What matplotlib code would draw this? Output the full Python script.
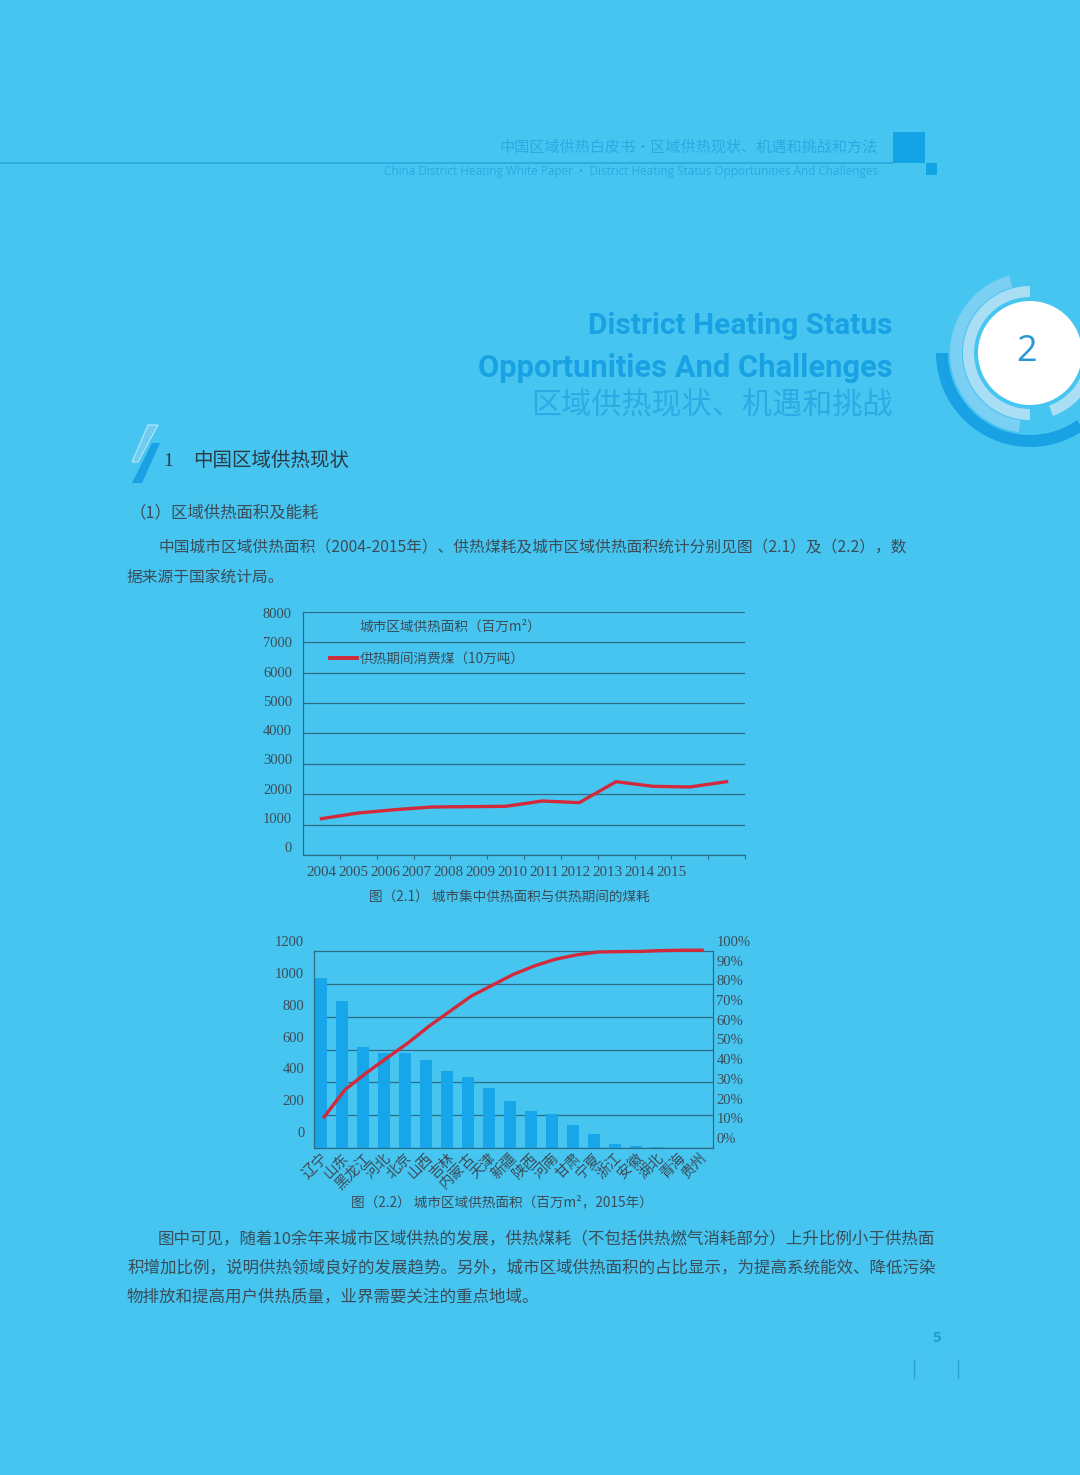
import matplotlib
matplotlib.use('Agg')
import matplotlib.pyplot as plt
from matplotlib.patches import Wedge, Circle, Polygon, Rectangle
from matplotlib.lines import Line2D
import numpy as np

plt.rcParams['font.family'] = ['Noto Sans CJK SC', 'DejaVu Sans']

# ---------------- data ----------------
years = ['2004', '2005', '2006', '2007', '2008', '2009', '2010', '2011', '2012', '2013', '2014', '2015']
coal = [1196, 1383, 1492, 1580, 1591, 1602, 1778, 1723, 2414, 2261, 2239, 2414]
y1_ticks = [0, 1000, 2000, 3000, 4000, 5000, 6000, 7000, 8000]

provinces = ['辽宁', '山东', '黑龙江', '河北', '北京', '山西', '吉林', '内蒙古', '天津', '新疆',
             '陕西', '河南', '甘肃', '宁夏', '浙江', '安徽', '湖北', '青海', '贵州']
area = [1038, 896, 614, 580, 580, 535, 470, 434, 363, 286, 223, 207, 142, 85, 26, 10, 8, 2, 0]
cum_pct = [10.7, 24.6, 33.0, 40.7, 48.3, 56.8, 64.4, 72.0, 77.5, 83.0, 87.3, 90.7, 92.9, 94.4,
           94.6, 94.7, 95.1, 95.3, 95.3]
y2_ticks = [0, 200, 400, 600, 800, 1000, 1200]
pct_ticks = [0, 10, 20, 30, 40, 50, 60, 70, 80, 90, 100]

# ---------------- style ----------------
BG = '#47C5F1'
TXT = '#3a4d58'
GRID = '#2f6a84'
RED = '#D22A3A'
BAR = '#16A6E9'
DEEP = '#18A2E4'
PALE = '#A9DEF4'
MID = '#7ACFF2'
SERIF = 'Liberation Serif'

W, H = 1080, 1475
fig = plt.figure(figsize=(10.8, 14.75), dpi=100, facecolor=BG)

def rect(l, t, r, b):
    return [l / W, 1 - b / H, (r - l) / W, (b - t) / H]

page = fig.add_axes([0, 0, 1, 1])
page.set_xlim(0, W)
page.set_ylim(H, 0)
page.axis('off')
page.set_zorder(0)

# ---------------- header ----------------
page.plot([0, 893], [163, 163], color='#28A6DF', lw=1.2)
page.add_patch(Rectangle((893, 132), 32, 31, color='#13A4E6', lw=0))
page.add_patch(Rectangle((926, 163), 11, 12, color='#13A4E6', lw=0))
page.text(878, 147, '中国区域供热白皮书•区域供热现状、机遇和挑战和方法', ha='right', va='center',
          fontsize=10.9, color='#2AA9E2')
page.text(878, 172, 'China District Heating White Paper  •  District Heating Status Opportunities And Challenges',
          ha='right', va='center', fontsize=8.5, color='#2AA9E2', family='Open Sans')

# ---------------- chapter title ----------------
page.text(893, 326, 'District Heating Status', ha='right', va='center', fontsize=21.5,
          fontweight='bold', color=DEEP, family='Roboto')
page.text(893, 368, 'Opportunities And Challenges', ha='right', va='center', fontsize=22.2,
          fontweight='bold', color=DEEP, family='Roboto')
page.text(893, 406, '区域供热现状、机遇和挑战', ha='right', va='center', fontsize=21.7,
          color='#2BAAE4')

# ring decoration (screen angles converted for inverted y)
cx, cy = 1030, 353
def ring(r_out, width, a1, a2, color):
    page.add_patch(Wedge((cx, cy), r_out, -a2, -a1, width=width, color=color, lw=0))
ring(94, 12, 180, 305, DEEP)
ring(80, 12, 105, 262, MID)
ring(67, 11, 90, 270, PALE)
ring(67, 11, 290, 345, PALE)
page.add_patch(Circle((cx, cy), 52, color='white', lw=0))
page.text(1027, 352, '2', ha='center', va='center', fontsize=26, color='#2A98D5', family='Open Sans')

# ---------------- section heading ----------------
page.add_patch(Polygon([(148, 425), (158, 425), (138, 462), (132, 462)], closed=True,
                       facecolor='#6FCDF2', edgecolor='#B8E6F7', lw=0.8))
page.add_patch(Polygon([(152, 443), (160, 443), (142, 483), (132, 483)], closed=True,
                       facecolor=DEEP, lw=0))
page.text(163, 461, '1', ha='left', va='center', fontsize=14, color='#2b3a44', family=SERIF)
page.text(193, 460, '中国区域供热现状', ha='left', va='center', fontsize=14, color='#2b3a44')
page.text(130, 513, '（1）区域供热面积及能耗', ha='left', va='center', fontsize=11.8, color=TXT)
page.text(158, 548, '中国城市区域供热面积（2004-2015年）、供热煤耗及城市区域供热面积统计分别见图（2.1）及（2.2），数',
          ha='left', va='center', fontsize=11.3, color=TXT)
page.text(127, 577, '据来源于国家统计局。', ha='left', va='center', fontsize=11.3, color=TXT)

# ---------------- chart 1 ----------------
ax1 = fig.add_axes(rect(303, 612, 745, 855))
ax1.set_zorder(2)
ax1.patch.set_alpha(0)
ax1.set_xlim(-0.5, len(years) - 0.5)
ax1.set_ylim(0, 8000)
ax1.plot(range(len(years)), coal, color=RED, lw=2.4, solid_joinstyle='round', zorder=3)
ax1.set_yticks(y1_ticks)
ax1.yaxis.grid(True, color=GRID, lw=0.9)
ax1.tick_params(axis='y', length=0, labelleft=False)
label_pos = np.linspace(0, 9.49, len(years))
ax1.set_xticks(label_pos)
ax1.set_xticklabels(years)
ax1.set_xticks(np.arange(0.5, len(years), 1), minor=True)
ax1.tick_params(axis='x', which='major', length=0, pad=8, labelsize=10.8, labelcolor=TXT,
                labelfontfamily=SERIF)
ax1.tick_params(axis='x', which='minor', length=3, color=GRID, width=0.8, direction='out')
for s in ['top', 'right']:
    ax1.spines[s].set_visible(False)
for s in ['left', 'bottom']:
    ax1.spines[s].set_color(GRID)
    ax1.spines[s].set_linewidth(0.9)

sec1 = ax1.secondary_yaxis('left', functions=(lambda y: y * 243 / 234 - 273.5,
                                               lambda v: (v + 273.5) * 234 / 243))
sec1.set_yticks(y1_ticks)
sec1.tick_params(length=0, pad=8, labelsize=10.5, labelcolor=TXT, labelfontfamily=SERIF)
for s in sec1.spines.values():
    s.set_visible(False)

ax1.legend(handles=[Line2D([], [], color='none'), Line2D([], [], color=RED, lw=2.8)],
           labels=['城市区域供热面积（百万m²）', '供热期间消费煤（10万吨）'],
           loc='upper left', bbox_to_anchor=(0.061, 0.968), frameon=False, fontsize=9.8,
           handlelength=1.95, handletextpad=0.2, labelspacing=1.3, borderpad=0,
           borderaxespad=0, labelcolor=TXT)

page.text(509, 897, '图（2.1） 城市集中供热面积与供热期间的煤耗', ha='center', va='center',
          fontsize=9.8, color=TXT)

# ---------------- chart 2 ----------------
# axes box runs 940..1148 px; value axis scaled so 1200 sits at the 951 px gridline
PX_PER_UNIT = 197 / 1200
xlim2 = (-0.333, len(provinces) - 0.333)
ax2 = fig.add_axes(rect(314, 940, 713, 1148))
ax2.set_zorder(2)
ax2.patch.set_alpha(0)
ax2.set_xlim(*xlim2)
ax2.set_ylim(0, 208 / PX_PER_UNIT)
ax2.bar(range(len(provinces)), area, width=0.57, color=BAR, zorder=2)
ax2.set_yticks(y2_ticks)
ax2.yaxis.grid(True, color=GRID, lw=0.9, zorder=1)
ax2.set_axisbelow(True)
ax2.tick_params(axis='y', length=0, labelleft=False)
ax2.set_xticks(range(len(provinces)))
ax2.set_xticklabels(provinces, rotation=45, ha='right', va='top', rotation_mode='anchor')
ax2.tick_params(axis='x', length=0, pad=2, labelsize=10.5, labelcolor=TXT)
ax2.spines['top'].set_visible(False)
for s in ['left', 'bottom', 'right']:
    ax2.spines[s].set_color(GRID)
    ax2.spines[s].set_linewidth(0.9)
ax2.spines['left'].set_bounds(0, 1200)
ax2.spines['right'].set_bounds(0, 1200)

sec2 = ax2.secondary_yaxis('left', functions=(lambda y: y * 197 / 191 - 100.52,
                                               lambda v: (v + 100.52) * 191 / 197))
sec2.set_yticks(y2_ticks)
sec2.tick_params(length=0, pad=7, labelsize=10.5, labelcolor=TXT, labelfontfamily=SERIF)
for s in sec2.spines.values():
    s.set_visible(False)

axr = ax2.twinx()
axr.set_zorder(3)
axr.set_ylim(-5.076, 100.5)
axr.plot(np.arange(len(provinces)) + 0.15, cum_pct, color=RED, lw=2.4, solid_joinstyle='round')
axr.set_yticks(pct_ticks)
axr.set_yticklabels([f'{p}%' for p in pct_ticks])
axr.tick_params(axis='y', length=0, pad=2.5, labelsize=10.5, labelcolor=TXT, labelfontfamily=SERIF)
for s in axr.spines.values():
    s.set_visible(False)

page.text(502, 1202, '图（2.2） 城市区域供热面积（百万m²，2015年）', ha='center', va='center',
          fontsize=9.8, color=TXT)

# ---------------- closing paragraph ----------------
page.text(158, 1239, '图中可见，随着10余年来城市区域供热的发展，供热煤耗（不包括供热燃气消耗部分）上升比例小于供热面',
          ha='left', va='center', fontsize=11.9, color=TXT)
page.text(127, 1268, '积增加比例，说明供热领域良好的发展趋势。另外，城市区域供热面积的占比显示，为提高系统能效、降低污染',
          ha='left', va='center', fontsize=11.9, color=TXT)
page.text(127, 1297, '物排放和提高用户供热质量，业界需要关注的重点地域。',
          ha='left', va='center', fontsize=11.9, color=TXT)

# ---------------- footer ----------------
page.text(937, 1338, '5', ha='center', va='center', fontsize=11, fontweight='bold',
          color='#1E9FDB', family='Open Sans')
page.plot([914, 914], [1360, 1378], color='#2AA0D8', lw=1)
page.plot([958, 958], [1360, 1378], color='#2AA0D8', lw=1)

fig.savefig('out.png', dpi=100, facecolor=BG)
